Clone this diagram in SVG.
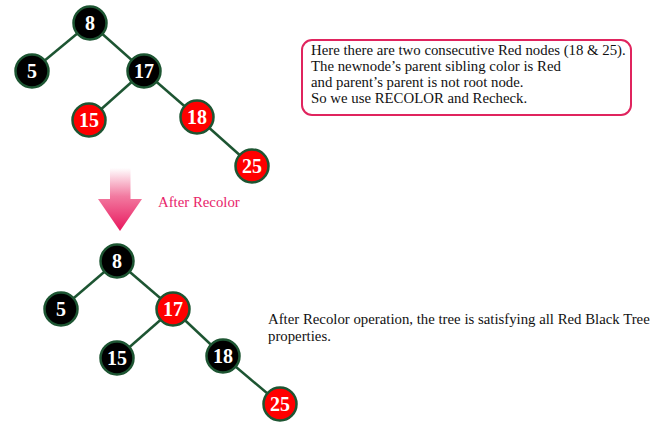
<svg xmlns="http://www.w3.org/2000/svg" width="664" height="440" viewBox="0 0 664 440">
<defs>
<linearGradient id="ag" x1="0" y1="0" x2="0" y2="1">
<stop offset="0" stop-color="#ffffff"/>
<stop offset="0.45" stop-color="#f27aa0"/>
<stop offset="1" stop-color="#e8175d"/>
</linearGradient>
</defs>
<style>
.e{stroke:#1d5532;stroke-width:2.5;fill:none}
.n circle{stroke:#1d5532;stroke-width:2.5}
.b{fill:#000}
.r{fill:#ff0000}
.n text{font-family:"Liberation Serif",serif;font-weight:bold;font-size:20px;fill:#fff;text-anchor:middle}
.t{font-family:"Liberation Serif",serif;font-size:14.8px;fill:#111}
</style>
<rect width="664" height="440" fill="#fff"/>
<g id="connectors">
<line class="e" x1="90" y1="23" x2="32" y2="71"/>
<line class="e" x1="90" y1="23" x2="144" y2="71"/>
<line class="e" x1="144" y1="71" x2="89" y2="120"/>
<line class="e" x1="144" y1="71" x2="197" y2="117"/>
<line class="e" x1="197" y1="117" x2="252" y2="166"/>
<line class="e" x1="117" y1="261" x2="61" y2="309"/>
<line class="e" x1="117" y1="261" x2="173" y2="309"/>
<line class="e" x1="173" y1="309" x2="117" y2="358"/>
<line class="e" x1="173" y1="309" x2="223" y2="356"/>
<line class="e" x1="223" y1="356" x2="280" y2="404"/>
</g>
<g id="t1n8" class="n"><circle class="b" cx="90" cy="23" r="16.5"/><text x="90" y="30">8</text></g>
<g id="t1n5" class="n"><circle class="b" cx="32" cy="71" r="16.5"/><text x="32" y="78">5</text></g>
<g id="t1n17" class="n"><circle class="b" cx="144" cy="71" r="16.5"/><text x="144" y="78">17</text></g>
<g id="t1n15" class="n"><circle class="r" cx="89" cy="120" r="16.5"/><text x="89" y="127">15</text></g>
<g id="t1n18" class="n"><circle class="r" cx="197" cy="117" r="16.5"/><text x="197" y="124">18</text></g>
<g id="t1n25" class="n"><circle class="r" cx="252" cy="166" r="16.5"/><text x="252" y="173">25</text></g>
<g id="t2n8" class="n"><circle class="b" cx="117" cy="261" r="16.5"/><text x="117" y="268">8</text></g>
<g id="t2n5" class="n"><circle class="b" cx="61" cy="309" r="16.5"/><text x="61" y="316">5</text></g>
<g id="t2n17" class="n"><circle class="r" cx="173" cy="309" r="16.5"/><text x="173" y="316">17</text></g>
<g id="t2n15" class="n"><circle class="b" cx="117" cy="358" r="16.5"/><text x="117" y="365">15</text></g>
<g id="t2n18" class="n"><circle class="b" cx="223" cy="356" r="16.5"/><text x="223" y="363">18</text></g>
<g id="t2n25" class="n"><circle class="r" cx="280" cy="404" r="16.5"/><text x="280" y="411">25</text></g>
<g id="note1">
<rect x="302" y="40" width="329" height="75" rx="10" fill="#fff" stroke="#e0245e" stroke-width="2"/>
<text class="t" x="311" y="55">Here there are two consecutive Red nodes (18 &amp; 25).</text>
<text class="t" x="311" y="71">The newnode’s parent sibling color is Red</text>
<text class="t" x="311" y="87">and parent’s parent is not root node.</text>
<text class="t" x="311" y="103">So we use RECOLOR and Recheck.</text>
</g>
<g id="arrow">
<polygon points="110,168 130.5,168 130.5,199 142,199 120,231 98,199 110,199" fill="url(#ag)"/>
<text x="158" y="207" style="font-family:'Liberation Serif',serif;font-size:14.8px;fill:#e8246a">After Recolor</text>
</g>
<g id="note2">
<text class="t" x="268" y="324">After Recolor operation, the tree is satisfying all Red Black Tree</text>
<text class="t" x="268" y="341">properties.</text>
</g>
</svg>
